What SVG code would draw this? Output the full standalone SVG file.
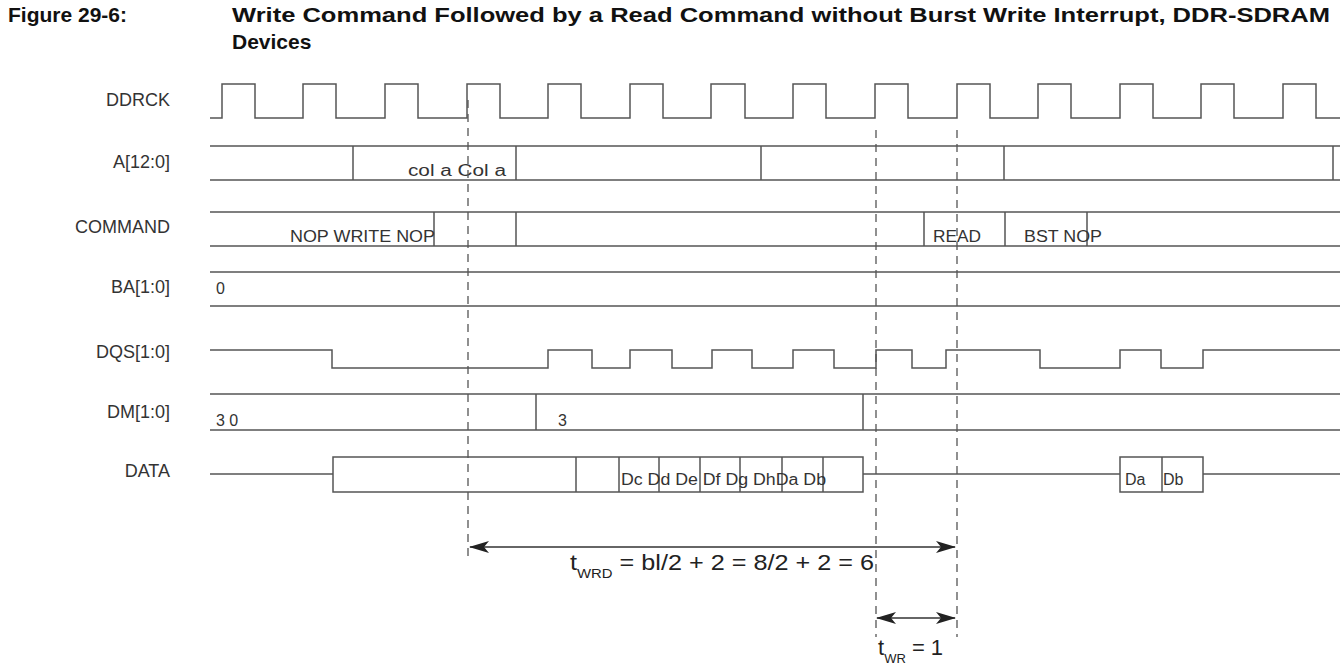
<svg xmlns="http://www.w3.org/2000/svg" width="1340" height="667" viewBox="0 0 1340 667">
<defs>
<style>
.w{fill:none;stroke:#555;stroke-width:1.5}
.d{fill:none;stroke:#555;stroke-width:1.3;stroke-dasharray:8,6}
.l{font-family:"Liberation Sans",Arial,sans-serif;font-size:18px;fill:#333;text-anchor:end}
.t{font-family:"Liberation Sans",Arial,sans-serif;font-size:16px;fill:#333}
.m{font-family:"Liberation Sans",Arial,sans-serif;font-size:22px;fill:#222}
.s{font-size:13px}
.h{font-family:"Liberation Sans",Arial,sans-serif;font-size:21px;font-weight:bold;fill:#111}
</style>
<marker id="a" viewBox="0 0 20 12" refX="19" refY="6" markerWidth="20" markerHeight="12" markerUnits="userSpaceOnUse" orient="auto-start-reverse"><path d="M0,0 L20,6 L0,12 L5,6 Z" fill="#222"/></marker>
</defs>
<rect width="1340" height="667" fill="#fff"/>
<text class="h" x="8" y="22">Figure 29-6:</text>
<text class="h" x="232" y="22" textLength="1098" lengthAdjust="spacingAndGlyphs">Write Command Followed by a Read Command without Burst Write Interrupt, DDR-SDRAM</text>
<text class="h" x="232" y="49">Devices</text>
<g id="labels">
<text class="l" x="170" y="106">DDRCK</text>
<text class="l" x="170" y="168">A[12:0]</text>
<text class="l" x="170" y="233">COMMAND</text>
<text class="l" x="170" y="293">BA[1:0]</text>
<text class="l" x="170" y="358">DQS[1:0]</text>
<text class="l" x="170" y="418">DM[1:0]</text>
<text class="l" x="170" y="477">DATA</text>
</g>
<g id="ddrck"><path class="w" d="M210,118 H222 V84 H255 V118 H303 V84 H336 V118 H385 V84 H418 V118 H467 V84 H500 V118 H548 V84 H581 V118 H630 V84 H663 V118 H711 V84 H745 V118 H793 V84 H826 V118 H875 V84 H908 V118 H957 V84 H990 V118 H1038 V84 H1071 V118 H1120 V84 H1153 V118 H1201 V84 H1234 V118 H1283 V84 H1316 V118 H1340"/></g>
<g id="addr"><path class="w" d="M210,146 H1340 M210,180 H1340 M353,146 V180 M516,146 V180 M761,146 V180 M1004,146 V180 M1333,146 V180"/>
<text class="t" x="408" y="176" textLength="98" lengthAdjust="spacingAndGlyphs">col a Col a</text></g>
<g id="command"><path class="w" d="M210,212 H1340 M210,246 H1340 M434,212 V246 M516,212 V246 M924,212 V246 M1005,212 V246 M1087,212 V246"/>
<text class="t" x="290" y="242" textLength="145" lengthAdjust="spacingAndGlyphs">NOP WRITE NOP</text>
<text class="t" x="933" y="242" textLength="48" lengthAdjust="spacingAndGlyphs">READ</text>
<text class="t" x="1024" y="242" textLength="78" lengthAdjust="spacingAndGlyphs">BST NOP</text></g>
<g id="ba"><path class="w" d="M210,272 H1340 M210,306 H1340"/><text class="t" x="216" y="294">0</text></g>
<g id="dqs"><path class="w" d="M210,350 H332 V368 H548 V350 H592 V368 H630 V350 H672 V368 H712 V350 H752 V368 H793 V350 H834 V368 H876 V350 H912 V368 H946 V350 H1040 V368 H1120 V350 H1161 V368 H1203 V350 H1340"/></g>
<g id="dm"><path class="w" d="M210,394 H1340 M210,430 H1340 M536,394 V430 M863,394 V430"/>
<text class="t" x="216" y="426">3 0</text><text class="t" x="558" y="426">3</text></g>
<g id="data"><path class="w" d="M210,474 H333 M863,474 H1120 M1203,474 H1340"/>
<rect class="w" x="333" y="457" width="530" height="35"/>
<path class="w" d="M576,457 V492 M619,457 V492 M659,457 V492 M700,457 V492 M740,457 V492 M782,457 V492 M823,457 V492"/>
<rect class="w" x="1120" y="457" width="83" height="35"/><path class="w" d="M1162,457 V492"/>
<text class="t" x="621" y="485" textLength="205" lengthAdjust="spacingAndGlyphs">Dc Dd De Df Dg DhDa Db</text>
<text class="t" x="1125" y="485">Da</text><text class="t" x="1163" y="485">Db</text></g>
<g id="connectors">
<path class="d" d="M468,100 V562 M876,130 V637 M957,130 V637"/>
<path d="M470,547 H955" stroke="#333" stroke-width="1.5" marker-start="url(#a)" marker-end="url(#a)"/>
<path d="M877,618 H955" stroke="#333" stroke-width="1.5" marker-start="url(#a)" marker-end="url(#a)"/>
<text class="m" x="570" y="570" textLength="304" lengthAdjust="spacingAndGlyphs">t<tspan class="s" dy="8">WRD</tspan><tspan dy="-8"> = bl/2 + 2 = 8/2 + 2 = 6</tspan></text>
<text class="m" x="878" y="655">t<tspan class="s" dy="8">WR</tspan><tspan dy="-8"> = 1</tspan></text>
</g>
</svg>
